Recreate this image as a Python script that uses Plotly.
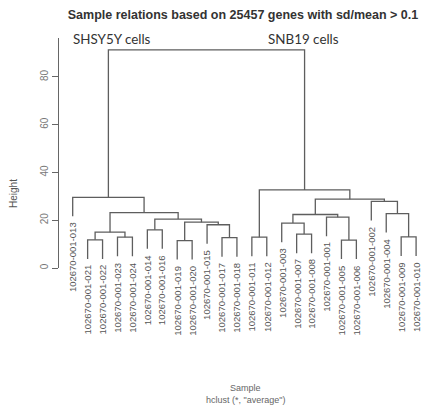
import plotly.graph_objects as go

# ---- data ----
leaf_labels = [
    "102670-001-013", "102670-001-021", "102670-001-022", "102670-001-023",
    "102670-001-024", "102670-001-014", "102670-001-016", "102670-001-019",
    "102670-001-020", "102670-001-015", "102670-001-017", "102670-001-018",
    "102670-001-011", "102670-001-012", "102670-001-003", "102670-001-007",
    "102670-001-008", "102670-001-001", "102670-001-005", "102670-001-006",
    "102670-001-002", "102670-001-004", "102670-001-009", "102670-001-010",
]
# R hclust-style merges: negative = leaf (1-based, display order), positive = earlier merge
merge_left = [-8, -19, -2, -13, -4, -11, -23, -16, 3, -6, -10, -15, 1, 10, -18, 12, -22, 9, -21, 16, -1, 4, 21]
merge_right = [-9, -20, -3, -14, -5, -12, -24, -17, 5, -7, 6, 8, 11, 13, 2, 15, 7, 14, 17, 19, 18, 20, 22]
merge_height = [11.5, 11.7, 11.8, 12.9, 12.9, 12.7, 13.0, 14.2, 15.0, 16.0, 18.1, 18.8, 19.2,
                20.5, 21.3, 22.4, 22.8, 23.2, 27.9, 28.8, 29.6, 32.7, 91.3]
y_ticks = [0, 20, 40, 60, 80]
hang_fraction = 0.1

title_text = "Sample relations based on 25457 genes with sd/mean > 0.1"
group_labels = ["SHSY5Y cells", "SNB19 cells"]
x_title = "Sample"
x_subtitle = 'hclust (*, "average")'
y_title = "Height"

# ---- layout geometry (page body has an 8px margin) ----
OFF = 8
W, H = 429 - OFF, 408 - OFF
ML, MT = 59 - OFF, 38 - OFF
PW, PH = 366, 230
MR, MB = W - ML - PW, H - MT - PH

def px_to_paper(px, py):
    # px, py in screenshot pixels
    return (px - OFF - ML) / PW, 1 - (py - OFF - MT) / PH

# ---- build dendrogram segments ----
hang = hang_fraction * (max(merge_height) - min(merge_height))
centers = {}
xs, ys = [], []
leaf_bottom = {}

def child_info(c, h):
    if c < 0:
        i = -c
        leaf_bottom[i] = h - hang
        return float(i), h - hang
    return centers[c], merge_height[c - 1]

for k, (l, r, h) in enumerate(zip(merge_left, merge_right, merge_height), start=1):
    xl, bl = child_info(l, h)
    xr, br = child_info(r, h)
    xs += [xl, xl, xr, xr, None]
    ys += [bl, h, h, br, None]
    centers[k] = (xl + xr) / 2

line_col = "#5e5e5e"
fig = go.Figure()
fig.add_trace(go.Scatter(x=xs, y=ys, mode="lines",
                         line=dict(color=line_col, width=1.3),
                         hoverinfo="skip", showlegend=False))

annotations = []
for i, lab in enumerate(leaf_labels, start=1):
    annotations.append(dict(x=i, y=leaf_bottom[i], xref="x", yref="y", text=lab,
                            textangle=-90, xanchor="center", yanchor="top",
                            yshift=-4, showarrow=False,
                            font=dict(family="Liberation Sans", size=9.5, color="#555555")))

hx, hy = px_to_paper(13, 194)
annotations.append(dict(x=hx, y=hy, xref="paper", yref="paper", text=y_title,
                        textangle=-90, showarrow=False, xanchor="center", yanchor="middle",
                        font=dict(family="Liberation Sans", size=10, color="#555555")))
for px, py, txt in [(71, 39, group_labels[0]), (266, 39, group_labels[1])]:
    ax, ay = px_to_paper(px, py)
    annotations.append(dict(x=ax, y=ay, xref="paper", yref="paper",
                            text=txt, showarrow=False, xanchor="left", yanchor="middle",
                            font=dict(family="Lato", size=13.4, color="#333333")))
for py, txt in [(388, x_title), (400, x_subtitle)]:
    ax, ay = px_to_paper(245, py)
    annotations.append(dict(x=ax, y=ay, xref="paper", yref="paper",
                            text=txt, showarrow=False, xanchor="center", yanchor="middle",
                            font=dict(family="Liberation Sans", size=9, color="#666666")))

xlo = 1 - (72.7 - 59) / 14.93
fig.update_layout(
    width=W, height=H,
    margin=dict(l=ML, r=MR, t=MT, b=MB, autoexpand=False),
    paper_bgcolor="white", plot_bgcolor="white",
    title=dict(text="<b>" + title_text + "</b>", x=(243 - OFF) / W, xanchor="center",
               y=1 - (15 - OFF) / H, yanchor="middle",
               font=dict(family="Liberation Sans", size=12.5, color="#333333")),
    xaxis=dict(visible=False, range=[xlo, xlo + PW / 14.93]),
    yaxis=dict(range=[0, 96.3], tickvals=y_ticks, ticktext=[str(t) for t in y_ticks],
               tickangle=-90, ticks="outside", ticklen=6, tickcolor="#666666",
               showline=True, linecolor="#666666", linewidth=1.2,
               showgrid=False, zeroline=False, automargin=False,
               tickfont=dict(family="Liberation Sans", size=10, color="#777777")),
    annotations=annotations,
)
fig.write_html("out.html")
